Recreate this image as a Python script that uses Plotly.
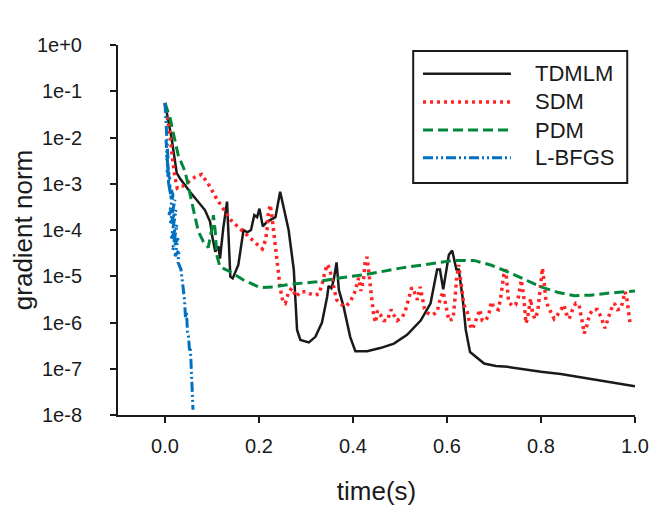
import plotly.graph_objects as go

# ---- data ----
tdmlm_t = [0.0, 0.014, 0.025, 0.032, 0.053, 0.085, 0.096, 0.100, 0.107, 0.114, 0.117, 0.124,
           0.132, 0.139, 0.144, 0.156, 0.167, 0.175, 0.183, 0.190, 0.196, 0.201, 0.208, 0.217,
           0.235, 0.245, 0.263, 0.274, 0.281, 0.288, 0.306, 0.320, 0.334, 0.345, 0.348, 0.354,
           0.359, 0.365, 0.370, 0.380, 0.394, 0.405, 0.430, 0.458, 0.487, 0.515, 0.544, 0.565,
           0.579, 0.585, 0.592, 0.599, 0.604, 0.611, 0.616, 0.620, 0.625, 0.633, 0.640, 0.649,
           0.679, 0.704, 0.729, 0.771, 0.800, 0.842, 0.885, 0.928, 0.970, 1.0]
tdmlm_g = [5.5e-2, 9.6e-3, 1.7e-3, 1.3e-3, 6.7e-4, 2.7e-4, 1.5e-4, 7.8e-5, 3.4e-5, 4.4e-5, 2.4e-5, 1.1e-4,
           4.1e-4, 9.8e-6, 9.0e-6, 1.75e-5, 1.0e-4, 8.9e-5, 1.0e-4, 2.1e-4, 1.9e-4, 2.9e-4, 1.2e-4, 1.5e-4,
           1.9e-4, 6.7e-4, 1.0e-4, 1.4e-5, 6.9e-7, 4.2e-7, 3.7e-7, 4.9e-7, 1.0e-6, 3.6e-6, 6.2e-6, 5.5e-6,
           8.3e-6, 2.0e-5, 5.0e-6, 2.2e-6, 4.9e-7, 2.4e-7, 2.4e-7, 2.8e-7, 3.5e-7, 5.4e-7, 1.1e-6, 2.6e-6,
           1.4e-5, 1.4e-5, 5.2e-6, 1.6e-5, 2.9e-5, 3.6e-5, 1.9e-5, 1.4e-5, 1.4e-5, 3.6e-6, 6.9e-7, 2.3e-7,
           1.3e-7, 1.15e-7, 1.1e-7, 9.4e-8, 8.6e-8, 7.7e-8, 6.5e-8, 5.5e-8, 4.6e-8, 4.2e-8]

sdm_t = [0.0, 0.006, 0.011, 0.015, 0.021, 0.026, 0.032, 0.038, 0.049, 0.064, 0.078, 0.087, 0.096,
         0.110, 0.128, 0.141, 0.154, 0.167, 0.181, 0.196, 0.207, 0.214, 0.217, 0.220, 0.224, 0.228,
         0.232, 0.237, 0.240, 0.245, 0.251, 0.256, 0.263, 0.270, 0.279, 0.288, 0.299, 0.309, 0.316,
         0.327, 0.334, 0.339, 0.345, 0.350, 0.355, 0.360, 0.365, 0.373, 0.384, 0.394, 0.403, 0.409,
         0.412, 0.417, 0.423, 0.426, 0.430, 0.433, 0.437, 0.441, 0.444, 0.448, 0.452, 0.458, 0.465,
         0.473, 0.481, 0.487, 0.494, 0.505, 0.512, 0.519, 0.525, 0.529, 0.537, 0.543, 0.548, 0.552,
         0.559, 0.569, 0.579, 0.586, 0.592, 0.597, 0.604, 0.613, 0.616, 0.618, 0.620, 0.623, 0.625,
         0.629, 0.633, 0.636, 0.643, 0.649, 0.654, 0.659, 0.665, 0.670, 0.675, 0.682, 0.689, 0.694,
         0.700, 0.709, 0.714, 0.718, 0.721, 0.725, 0.727, 0.731, 0.739, 0.746, 0.752, 0.755, 0.758,
         0.763, 0.765, 0.768, 0.771, 0.775, 0.778, 0.782, 0.787, 0.793, 0.796, 0.800, 0.803, 0.807,
         0.810, 0.815, 0.821, 0.828, 0.835, 0.842, 0.849, 0.853, 0.860, 0.867, 0.874, 0.881, 0.885,
         0.888, 0.892, 0.898, 0.903, 0.910, 0.920, 0.928, 0.936, 0.942, 0.949, 0.956, 0.963, 0.970,
         0.976, 0.979, 0.983, 0.987, 0.990]
sdm_g = [5.6e-2, 2.6e-2, 1.1e-2, 4.2e-3, 1.4e-3, 8.1e-4, 8.9e-4, 8.9e-4, 1.1e-3, 1.4e-3, 1.6e-3, 1.2e-3, 8.5e-4,
         4.7e-4, 2.4e-4, 1.6e-4, 1.2e-4, 9.1e-5, 6.6e-5, 5.0e-5, 3.9e-5, 6.1e-5, 1.0e-4, 2.4e-4, 3.5e-4, 1.8e-4,
         7.4e-5, 3.2e-5, 1.4e-5, 5.6e-6, 2.8e-6, 2.6e-6, 4.6e-6, 5.5e-6, 3.6e-6, 4.6e-6, 4.6e-6, 4.1e-6, 3.9e-6,
         4.1e-6, 6.5e-6, 1.1e-5, 1.8e-5, 1.5e-5, 8.7e-6, 4.6e-6, 3.1e-6, 2.5e-6, 2.2e-6, 2.8e-6, 4.3e-6, 7.0e-6,
         9.2e-6, 4.8e-6, 9.6e-6, 2.2e-5, 2.6e-5, 1.4e-5, 5.9e-6, 2.8e-6, 1.4e-6, 1.0e-6, 1.8e-6, 1.5e-6, 1.1e-6,
         1.1e-6, 1.9e-6, 1.45e-6, 1.1e-6, 1.3e-6, 1.9e-6, 3.4e-6, 5.7e-6, 5.0e-6, 3.1e-6, 5.9e-6, 3.4e-6, 2.0e-6,
         1.6e-6, 1.45e-6, 1.7e-6, 3.4e-6, 4.6e-6, 2.6e-6, 1.1e-6, 1.2e-6, 2.2e-6, 4.3e-6, 8.3e-6, 1.6e-5, 1.75e-5,
         8.3e-6, 3.6e-6, 2.4e-6, 1.7e-6, 8.8e-7, 7.1e-7, 1.0e-6, 1.45e-6, 1.9e-6, 1.1e-6, 1.1e-6, 1.45e-6, 2.8e-6,
         2.1e-6, 1.9e-6, 3.3e-6, 6.5e-6, 1.1e-5, 1.4e-5, 7.0e-6, 2.8e-6, 2.3e-6, 2.4e-6, 3.6e-6, 5.5e-6, 8.3e-6,
         3.9e-6, 1.9e-6, 9.6e-7, 1.2e-6, 1.9e-6, 3.3e-6, 1.6e-6, 1.2e-6, 1.7e-6, 3.1e-6, 6.5e-6, 1.5e-5, 7.0e-6,
         3.3e-6, 2.2e-6, 1.6e-6, 1.2e-6, 1.45e-6, 1.9e-6, 2.4e-6, 1.6e-6, 1.2e-6, 1.9e-6, 2.6e-6, 2.4e-6, 1.6e-6,
         1.0e-6, 5.8e-7, 8.8e-7, 1.45e-6, 1.9e-6, 1.9e-6, 1.3e-6, 7.5e-7, 1.1e-6, 1.9e-6, 2.6e-6, 1.9e-6, 2.0e-6,
         3.6e-6, 4.6e-6, 3.1e-6, 1.7e-6, 8.8e-7]

pdm_t = [0.0, 0.011, 0.018, 0.028, 0.043, 0.053, 0.060, 0.071, 0.082, 0.092, 0.100, 0.103,
         0.107, 0.110, 0.117, 0.139, 0.167, 0.202, 0.231, 0.273, 0.323, 0.366, 0.430, 0.501,
         0.572, 0.615, 0.657, 0.693, 0.729, 0.764, 0.800, 0.835, 0.871, 0.906, 0.942, 1.0]
pdm_g = [5.6e-2, 2.6e-2, 1.2e-2, 4.2e-3, 1.8e-3, 6.7e-4, 2.9e-4, 9.2e-5, 5.5e-5, 4.2e-5, 1.1e-4, 2.1e-4,
         9.1e-5, 2.9e-5, 1.6e-5, 1.25e-5, 8.3e-6, 5.7e-6, 5.9e-6, 6.8e-6, 7.6e-6, 9.0e-6, 1.1e-5, 1.5e-5,
         1.9e-5, 2.2e-5, 2.2e-5, 1.75e-5, 1.25e-5, 8.6e-6, 5.9e-6, 4.5e-6, 3.8e-6, 3.9e-6, 4.3e-6, 4.8e-6]

lbfgs_t = [0.0, 0.0043, 0.0011, 0.0064, 0.0021, 0.0074, 0.0032, 0.0106, 0.0043, 0.0138, 0.0064, 0.017,
           0.0085, 0.0213, 0.0106, 0.0234, 0.0128, 0.0255, 0.016, 0.0277, 0.0213, 0.0298, 0.0277, 0.034,
           0.0383, 0.0415, 0.0436, 0.0457, 0.0479, 0.05, 0.0521, 0.0538, 0.0553, 0.057, 0.0585, 0.0596]
lbfgs_g = [5.6e-2, 1.1e-2, 2.4e-2, 3.3e-3, 8.8e-3, 1.5e-3, 4.2e-3, 1.2e-3, 2.0e-3, 4.5e-4, 1.2e-3, 5.7e-4,
           2.1e-4, 4.5e-4, 1.3e-4, 2.7e-4, 6.1e-5, 1.3e-4, 3.7e-5, 6.7e-5, 2.7e-5, 3.7e-5, 2.0e-5, 1.4e-5,
           6.5e-6, 3.1e-6, 1.25e-6, 1.7e-6, 6.2e-7, 5.1e-7, 2.5e-7, 2.8e-7, 1.4e-7, 6.3e-8, 2.7e-8, 1.3e-8]

x_ticks = [0.0, 0.2, 0.4, 0.6, 0.8, 1.0]
y_ticks = [1e0, 1e-1, 1e-2, 1e-3, 1e-4, 1e-5, 1e-6, 1e-7, 1e-8]
y_labels = ["1e+0", "1e-1", "1e-2", "1e-3", "1e-4", "1e-5", "1e-6", "1e-7", "1e-8"]

# name, x, y, colour, dash, width
series = [
    ("TDMLM", tdmlm_t, tdmlm_g, "#1a1a1a", "solid", 2.5),
    ("SDM", sdm_t, sdm_g, "#ff2323", "3px,4px", 3.5),
    ("PDM", pdm_t, pdm_g, "#00873c", "10px,5px", 3),
    ("L-BFGS", lbfgs_t, lbfgs_g, "#0070c0", "10px,3px,2px,3px,2px,3px", 3),
]

FONT = "Liberation Sans, Arial, sans-serif"

fig = go.Figure()
for name, xs, ys, color, dash, w in series:
    fig.add_trace(go.Scatter(x=xs, y=ys, mode="lines", name=name,
                             line=dict(color=color, dash=dash, width=w)))

# hand-made legend box (long line samples like the original)
shapes = [dict(type="rect", xref="paper", yref="paper", x0=0.571, x1=0.985, y0=0.627, y1=0.984,
               line=dict(color="#1a1a1a", width=2), fillcolor="white", layer="above")]
annotations = []
row_y = [0.922, 0.846, 0.770, 0.695]
for (name, _, _, color, dash, w), ry in zip(series, row_y):
    shapes.append(dict(type="line", xref="paper", yref="paper", x0=0.590, x1=0.760, y0=ry, y1=ry,
                       line=dict(color=color, dash=dash, width=w), layer="above"))
    annotations.append(dict(xref="paper", yref="paper", x=0.803, y=ry, text=name, showarrow=False,
                            xanchor="left", yanchor="middle", font=dict(size=22, color="#1a1a1a")))

# the page body adds an 8px offset, so margins are shifted to compensate
fig.update_layout(
    width=664, height=508,
    margin=dict(l=110, r=37, t=37, b=101),
    paper_bgcolor="white", plot_bgcolor="white",
    font=dict(family=FONT, color="#1a1a1a"),
    showlegend=False,
    shapes=shapes, annotations=annotations,
)

fig.update_xaxes(
    range=[-0.1, 1.0], tickvals=x_ticks, tickformat=".1f",
    showline=True, linecolor="#1a1a1a", linewidth=2, mirror=False,
    ticks="outside", ticklen=6, tickwidth=2, tickcolor="#1a1a1a",
    showgrid=False, zeroline=False, ticklabelstandoff=6,
    tickfont=dict(size=20),
    title=dict(text="time(s)", font=dict(size=26), standoff=26),
)
fig.update_yaxes(
    type="log", range=[-8, 0], tickvals=y_ticks, ticktext=y_labels,
    showline=True, linecolor="#1a1a1a", linewidth=2, mirror=False,
    ticks="outside", ticklen=6, tickwidth=2, tickcolor="#1a1a1a",
    showgrid=False, zeroline=False, ticklabelstandoff=24,
    tickfont=dict(size=20),
    title=dict(text="gradient norm", font=dict(size=26), standoff=0),
)

fig.write_html("out.html")
